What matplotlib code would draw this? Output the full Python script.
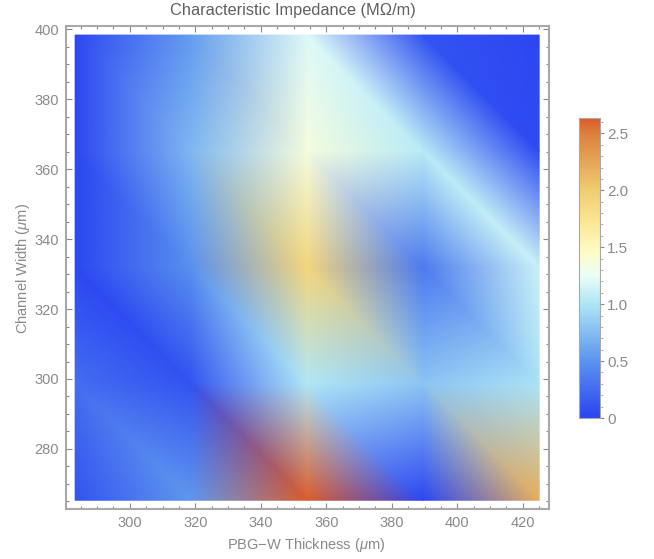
import matplotlib
matplotlib.use("Agg")
import matplotlib.pyplot as plt
import matplotlib.tri as mtri
from matplotlib.colors import LinearSegmentedColormap, Normalize
from matplotlib.ticker import MultipleLocator
import numpy as np

plt.rcParams['font.family'] = ['Liberation Sans', 'DejaVu Sans']
plt.rcParams['mathtext.fontset'] = 'custom'
plt.rcParams['mathtext.it'] = 'Liberation Sans:italic'
plt.rcParams['mathtext.rm'] = 'Liberation Sans'

# sample positions
thickness = [283.3, 318.7, 354.2, 389.6, 425.0]
width = [265.3, 298.6, 331.9, 365.2, 398.4]

# impedance at each sample, one list per channel width (bottom row first)
z_265 = [0.10, 0.52, 2.62, 0.02, 2.20]
z_299 = [0.26, 0.10, 1.02, 0.80, 0.98]
z_332 = [0.03, 0.48, 1.90, 0.35, 1.12]
z_365 = [0.03, 0.72, 1.36, 1.05, 0.05]
z_398 = [0.03, 0.55, 1.20, 0.10, 0.03]

title = "Characteristic Impedance (M\u03a9/m)"
xlabel = "PBG\u2212W Thickness ($\\mu$m)"
ylabel = "Channel Width ($\\mu$m)"
zmin, zmax = 0, 2.64

gray = "#8a8a8a"
frame = "#a8a8a8"

# colour scale taken from the legend bar
cmap = LinearSegmentedColormap.from_list("temp", [
    (0.00, "#2a44f2"),
    (0.19, "#5c94ee"),
    (0.38, "#aee6f6"),
    (0.47, "#e8fdf8"),
    (0.55, "#fffcc8"),
    (0.66, "#fbe590"),
    (0.76, "#efcc70"),
    (0.95, "#db7f3c"),
    (1.00, "#dc5a28"),
])

X, Y = np.meshgrid(thickness, width)
Z = np.array([z_265, z_299, z_332, z_365, z_398])

# every cell is cut along the top-left to bottom-right diagonal
nx = len(thickness)
tris = []
for j in range(len(width) - 1):
    for i in range(nx - 1):
        a = j * nx + i
        b = a + 1
        c = a + nx
        d = c + 1
        tris.append([a, b, c])
        tris.append([b, d, c])
tri = mtri.Triangulation(X.ravel(), Y.ravel(), tris)

fig = plt.figure(figsize=(6.54, 5.59), dpi=100)
ax = fig.add_axes([66 / 654, 50 / 559, 483 / 654, 483 / 559])
ax.tripcolor(tri, Z.ravel(), shading='gouraud', cmap=cmap, norm=Normalize(zmin, zmax))

ax.set_xlim(280.5, 428)
ax.set_ylim(262.8, 401)
ax.xaxis.set_major_locator(MultipleLocator(20))
ax.xaxis.set_minor_locator(MultipleLocator(5))
ax.yaxis.set_major_locator(MultipleLocator(20))
ax.yaxis.set_minor_locator(MultipleLocator(5))
ax.tick_params(which='major', direction='in', top=True, right=True, length=4,
               width=0.8, color=gray, labelcolor=gray, labelsize=10.5, pad=5)
ax.tick_params(which='minor', direction='in', top=True, right=True, length=2,
               width=0.8, color=gray)
for s in ax.spines.values():
    s.set_color(frame)
    s.set_linewidth(1.5)

fig.text(292.5 / 654, 1 - 10 / 559, title, ha='center', va='center', fontsize=11.8, color="#606060")
fig.text(306 / 654, 1 - 545 / 559, xlabel, ha='center', va='center', fontsize=10.5, color=gray)
fig.text(23 / 654, 1 - 268 / 559, ylabel, ha='center', va='center', rotation=90, fontsize=10.5, color=gray)

# legend bar
cax = fig.add_axes([579 / 654, 1 - 418 / 559, 21 / 654, 300.5 / 559])
sm = plt.cm.ScalarMappable(norm=Normalize(zmin, zmax), cmap=cmap)
cb = fig.colorbar(sm, cax=cax)
cb.set_ticks([0, 0.5, 1.0, 1.5, 2.0, 2.5], labels=["0", "0.5", "1.0", "1.5", "2.0", "2.5"])
cb.ax.yaxis.set_minor_locator(MultipleLocator(0.1))
cb.ax.tick_params(which='major', length=3, width=0.8, color=gray, labelcolor=gray, labelsize=11, pad=2)
cb.ax.tick_params(which='minor', length=2, width=0.6, color=frame)
cb.outline.set_edgecolor(frame)
cb.outline.set_linewidth(0.8)

fig.savefig("out.png", dpi=100)
